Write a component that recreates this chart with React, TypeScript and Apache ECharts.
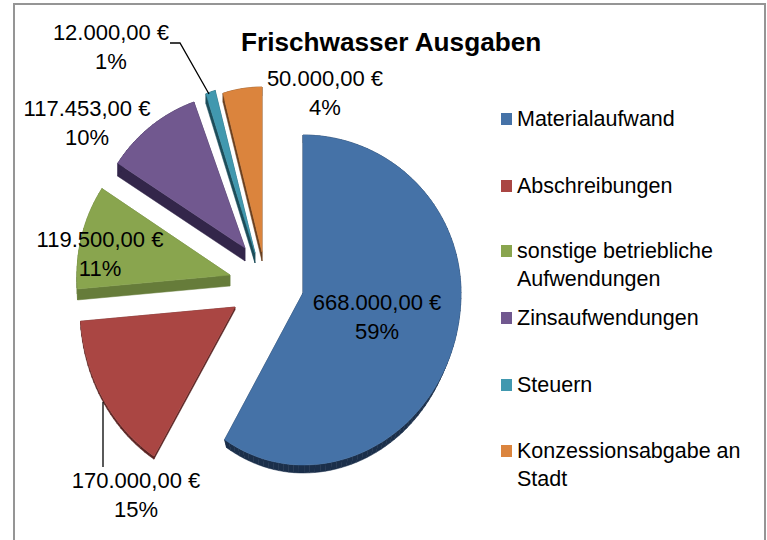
import React, { useEffect, useRef } from "react";
import * as echarts from "echarts";

const TITLE = "Frischwasser Ausgaben";
const CATEGORIES = ["Materialaufwand", "Abschreibungen", "sonstige betriebliche Aufwendungen", "Zinsaufwendungen", "Steuern", "Konzessionsabgabe an Stadt"];
const VALUES = [668000, 170000, 119500, 117453, 12000, 50000];
const COLORS = ["#4572A7", "#AA4643", "#89A54E", "#71588F", "#4198AF", "#DB843D"];
const SIDE_COLORS = ["#1B2F4A", "#5A2423", "#667C3A", "#33264A", "#1D4D5A", "#6B4020"];
const LEGEND_LINES: Record<string, string> = {
  "sonstige betriebliche Aufwendungen": "\nsonstige betriebliche\nAufwendungen",
  "Konzessionsabgabe an Stadt": "\nKonzessionsabgabe an\nStadt",
};
const LEGEND_CENTER_Y = [119, 186, 251, 318, 385, 451];

// Exploded-pie layout: each slice's apex, its radii and its extrusion depth.
const APEX_X = [303, 235, 230, 245, 255, 262];
const APEX_Y = [293, 307, 275, 248, 253, 252];
const RADIUS_LEFT = [150, 155, 153, 152, 146, 143];
const RADIUS_RIGHT = [158, 155, 153, 152, 146, 143];
const RADIUS_UP = [158, 158, 158, 155, 169, 165];
const RADIUS_DOWN = [172, 175, 172, 172, 172, 172];
const DEPTH = [8, 3, 11, 13, 10, 9];
const BASE_SCALE = [0.975, 1, 1, 1, 1, 1];

const LABEL_X = [377, 136, 100, 87, 111, 325];
const LABEL_Y = [317, 495, 254, 123, 47, 93];
const LEADERS: number[][][] = [[], [[103, 402], [103, 467]], [], [], [[170, 43], [180, 43], [209, 94]], []];

const FONT = "'Liberation Sans', Arial, sans-serif";
const total = VALUES.reduce((a, b) => a + b, 0);

function euro(v: number) {
  return v.toLocaleString("de-DE", { minimumFractionDigits: 2, maximumFractionDigits: 2 }) + " €";
}

function makeRenderItem(i: number) {
  return (_params: any, api: any) => {
    const value = api.value(0);
    const before = VALUES.slice(0, i).reduce((a, b) => a + b, 0);
    const a0 = (before / total) * Math.PI * 2;
    const a1 = ((before + value) / total) * Math.PI * 2;
    const ax = APEX_X[i];
    const ay = APEX_Y[i];
    const pts: number[][] = [[ax, ay]];
    const steps = Math.max(3, Math.ceil(((a1 - a0) * 180) / Math.PI / 2));
    for (let s = 0; s <= steps; s++) {
      const a = a0 + ((a1 - a0) * s) / steps;
      const c = Math.cos(a);
      const sn = Math.sin(a);
      pts.push([ax + sn * (sn > 0 ? RADIUS_RIGHT[i] : RADIUS_LEFT[i]), ay - c * (c > 0 ? RADIUS_UP[i] : RADIUS_DOWN[i])]);
    }
    const d = DEPTH[i];
    const k0 = BASE_SCALE[i];
    const base = (p: number[]) => [ax + (p[0] - ax) * k0, ay + (p[1] - ay) * k0 + d + (p[1] - ay) * (1 - k0)];
    const children: any[] = [];
    pts.forEach((p, k) => {
      const q = pts[(k + 1) % pts.length];
      children.push({
        type: "polygon",
        shape: { points: [p, q, base(q), base(p)] },
        style: { fill: SIDE_COLORS[i], stroke: SIDE_COLORS[i], lineWidth: 0.5 },
      });
    });
    children.push({
      type: "polygon",
      shape: { points: pts },
      style: { fill: COLORS[i], stroke: COLORS[i], lineWidth: 0.5 },
    });
    if (LEADERS[i].length) {
      children.push({
        type: "polyline",
        shape: { points: LEADERS[i] },
        style: { fill: "none", stroke: "#000", lineWidth: 1.3 },
        z2: 20,
      });
    }
    children.push({
      type: "text",
      z2: 30,
      style: {
        x: LABEL_X[i],
        y: LABEL_Y[i],
        text: `${euro(value)}\n${Math.round((value / total) * 100)}%`,
        font: `22px ${FONT}`,
        lineHeight: 29,
        fill: "#000",
        align: "center",
        verticalAlign: "middle",
      },
    });
    return { type: "group", children };
  };
}

export default function App() {
  const ref = useRef<HTMLDivElement>(null);
  useEffect(() => {
    const chart = echarts.init(ref.current!, undefined, { renderer: "svg" });
    chart.setOption({
      animation: false,
      backgroundColor: "#fff",
      title: {
        text: TITLE,
        left: 241,
        top: 29,
        padding: 0,
        textStyle: { fontFamily: FONT, fontSize: 26.2, fontWeight: "bold", color: "#000" },
      },
      legend: CATEGORIES.map((name, i) => {
        const lines = LEGEND_LINES[name] ? 3 : 1;
        return {
          data: [name],
          left: 501,
          top: LEGEND_CENTER_Y[i] - (lines * 28) / 2,
          padding: 0,
          icon: "rect",
          itemWidth: 11,
          itemHeight: 12,
          selectedMode: false,
          formatter: (n: string) => LEGEND_LINES[n] ?? n,
          textStyle: { fontFamily: FONT, fontSize: 21.5, lineHeight: 28, color: "#000" },
        };
      }),
      graphic: [
        {
          type: "rect",
          shape: { x: 14, y: 4, width: 751, height: 560 },
          style: { fill: "none", stroke: "#959595", lineWidth: 2 },
          silent: true,
        },
      ],
      series: CATEGORIES.map((name, i) => ({
        type: "custom",
        name,
        coordinateSystem: "none",
        silent: true,
        itemStyle: { color: COLORS[i] },
        data: [[VALUES[i]]],
        renderItem: makeRenderItem(i),
      })),
    });
    return () => chart.dispose();
  }, []);
  return <div ref={ref} style={{ position: "fixed", left: 0, top: 0, width: 767, height: 540 }} />;
}
